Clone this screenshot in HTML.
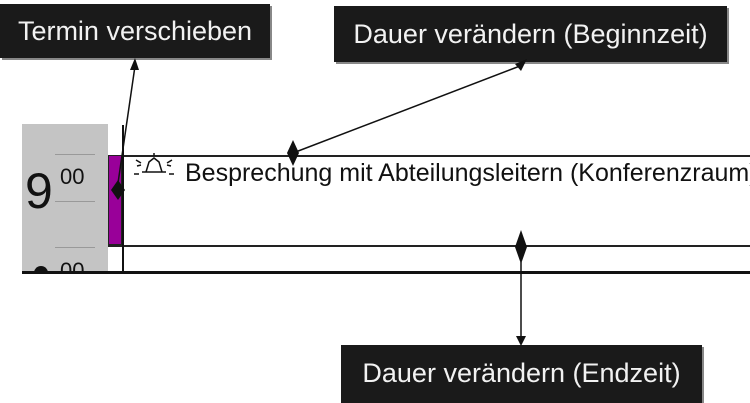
<!DOCTYPE html>
<html><head><meta charset="utf-8"><style>
body{margin:0;width:750px;height:401px;background:#fff;position:relative;overflow:hidden;font-family:"Liberation Sans",sans-serif}
.box{position:absolute;background:#1a1a1a;color:#f2f2f2;font-size:27px;box-shadow:2px 2px 0 #888;white-space:nowrap}
.a{position:absolute}
</style></head><body>
<div class="box" style="left:0;top:4px;width:270px;height:54px;line-height:54px;text-align:center">Termin verschieben</div>
<div class="box" style="left:334px;top:6px;width:393px;height:56px;line-height:56px;text-align:center">Dauer verändern (Beginnzeit)</div>
<div class="box" style="left:341px;top:345px;width:361px;height:58px;line-height:56px;text-align:center">Dauer verändern (Endzeit)</div>
<div class="a" style="left:22px;top:124px;width:86px;height:148px;background:#c4c4c4;overflow:hidden">
<div class="a" style="left:-30px;top:42px;font-size:50px;color:#111;line-height:50px">g</div>
<div class="a" style="left:3px;top:42px;font-size:50px;color:#111;line-height:50px">9</div>
<div class="a" style="left:38px;top:42px;font-size:22px;color:#111;line-height:22px">00</div>
<div class="a" style="left:38px;top:136px;font-size:22px;color:#111;line-height:22px">00</div>
<div class="a" style="left:12px;top:142px;width:14px;height:10px;border-radius:7px 7px 0 0;background:#111"></div>
<div class="a" style="left:33px;top:30px;width:40px;height:1px;background:#999"></div>
<div class="a" style="left:33px;top:77px;width:40px;height:1px;background:#999"></div>
<div class="a" style="left:33px;top:123px;width:40px;height:1px;background:#999"></div>
</div>
<div class="a" style="left:108px;top:155px;width:642px;height:88px;border-top:2px solid #222;border-bottom:2px solid #222"></div>
<div class="a" style="left:108px;top:155px;width:14px;height:90px;background:#990099;border:1px solid #222;box-sizing:border-box"></div>
<div class="a" style="left:122px;top:125px;width:2px;height:148px;background:#111"></div>
<div class="a" style="left:22px;top:271px;width:728px;height:3px;background:#111"></div>
<div class="a" style="left:185px;top:159px;font-size:25px;color:#111;white-space:nowrap">Besprechung mit Abteilungsleitern (Konferenzraum)</div>
<svg class="a" style="left:0;top:0" width="750" height="401">
<g stroke="#111" stroke-width="1.5" fill="none">
<path d="M146 172l3-10 5-4 5 4 3 10h4H142z"/><path d="M136 160l5 3M172 160l-5 3M134 174h5M174 174h-5M154 153v3M137 166l4-1M171 166l-4-1"/>
<line x1="117" y1="190" x2="135" y2="66"/>
<line x1="293" y1="153" x2="520" y2="66"/>
<line x1="521" y1="262" x2="521" y2="340"/>
</g>
<g fill="#111">
<path d="M135 58l-5 12h9z"/>
<path d="M527 59l-12 5 6 7z"/>
<path d="M521 346l-5-10h10z"/>
<path d="M118 180l7 10-7 10-7-10z"/>
<path d="M293 140l6 13-6 13-6-13z"/>
<path d="M521 230l6 17-6 17-6-17z"/>
</g>
</svg>
</body></html>
